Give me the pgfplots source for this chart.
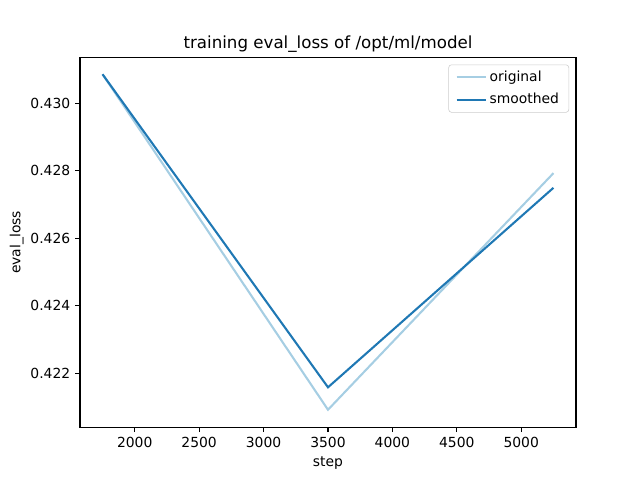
\documentclass[border=0pt]{standalone}
\usepackage{fontspec}
\setmainfont{DejaVu Sans}
\usepackage{pgfplots}
\pgfplotsset{compat=1.18}
\definecolor{origcol}{HTML}{A6CEE3}
\definecolor{smoothcol}{HTML}{1F78B4}
\begin{document}
\begin{tikzpicture}
\path[use as bounding box] (0,0) rectangle (460.8pt,345.6pt);
\begin{axis}[
  at={(57.6pt,38.016pt)}, anchor=south west,
  scale only axis, width=357.12pt, height=266.112pt,
  xmin=1575, xmax=5425, ymin=0.420403, ymax=0.431354,
  xtick={2000,2500,3000,3500,4000,4500,5000},
  ytick={0.422,0.424,0.426,0.428,0.430},
  /pgf/number format/assume math mode=true,
  xticklabel style={/pgf/number format/set thousands separator={}},
  yticklabel style={/pgf/number format/fixed,/pgf/number format/precision=3,/pgf/number format/fixed zerofill},
  scaled y ticks=false,
  tick pos=left, tick align=outside, major tick length=3.5pt,
  every tick/.style={black, line width=0.8pt},
  axis line style={line width=0.8pt},
  ticklabel style={font=\fontsize{10}{12}\selectfont},
  xlabel={step}, ylabel={eval\_loss},
  label style={font=\fontsize{10}{12}\selectfont},
  ylabel style={yshift=-2pt},
  title={training eval\_loss of /opt/ml/model},
  title style={font=\fontsize{12}{14}\selectfont, yshift=-6pt},
  legend style={at={(rel axis cs:1,1)}, anchor=north east, xshift=-5pt, yshift=-5pt,
    draw=black!20, rounded corners=2pt, font=\fontsize{10}{12}\selectfont,
    inner xsep=5pt, inner ysep=2.5pt, row sep=3pt},
  legend cell align=left,
  legend image code/.code={\draw[#1] (0pt,0pt) -- (21pt,0pt);},
]
\addplot[color=origcol, line width=1.5pt, sharp plot] coordinates {(1750,0.43086) (3500,0.42092) (5250,0.42793)};
\addlegendentry{original}
\addplot[color=smoothcol, line width=1.5pt, sharp plot] coordinates {(1750,0.43086) (3500,0.421585) (5250,0.427496)};
\addlegendentry{smoothed}
\end{axis}
\end{tikzpicture}
\end{document}
